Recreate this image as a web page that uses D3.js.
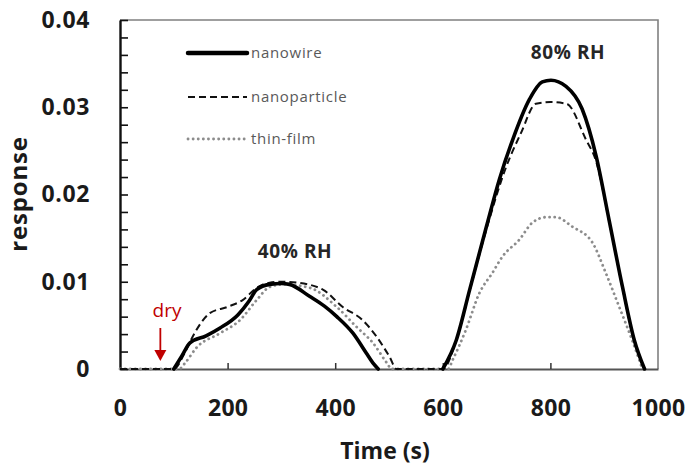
<!DOCTYPE html>
<html>
<head>
<meta charset="utf-8">
<script src="https://cdn.jsdelivr.net/npm/d3@7"></script>
<style>
  body { margin: 0; background: #fff; }
  text { font-family: "Open Sans", "Liberation Sans", sans-serif; }
</style>
</head>
<body>
<svg id="chart" width="690" height="471"></svg>
<script>
// values (time in s, response)
var nanowireT = [100, 115, 130, 160, 186, 219, 240, 254, 278, 300, 315, 353, 380, 403, 433, 458, 470, 480,
                 540,
                 600, 625, 650, 681, 705, 730, 761, 785, 801, 829, 859, 885, 909, 934, 956, 975];
var nanowireV = [0, 0.0015, 0.003, 0.0038, 0.0047, 0.0062, 0.0078, 0.0091, 0.0097, 0.0098, 0.0097, 0.0083, 0.0072, 0.006, 0.0041, 0.0018, 0.0007, 0,
                 null,
                 0, 0.0033, 0.0091, 0.0163, 0.0217, 0.0263, 0.0309, 0.0329, 0.0331, 0.0324, 0.0298, 0.0244, 0.0171, 0.0094, 0.0033, 0];

var particleT = [0, 100, 120, 135, 167, 199, 228, 254, 278, 300, 328, 377, 414, 451, 477, 501, 514,
                 600, 625, 650, 681, 718, 745, 773, 800, 830, 866, 885, 909, 934, 956, 975];
var particleV = [0, 0, 0.0018, 0.0037, 0.0064, 0.0071, 0.0079, 0.0093, 0.0099, 0.0100, 0.0099, 0.0091, 0.0071, 0.0056, 0.0037, 0.0014, 0,
                 0, 0.0033, 0.009, 0.016, 0.0232, 0.027, 0.0304, 0.0306, 0.0304, 0.0263, 0.0238, 0.017, 0.0093, 0.0032, 0];

var filmT = [0, 110, 121, 143, 186, 223, 254, 278, 303, 353, 403, 440, 470, 496, 505,
             610, 618, 643, 668, 692, 711, 742, 767, 792, 810, 841, 878, 903, 928, 952, 971];
var filmV = [0, 0, 0.0007, 0.0025, 0.0041, 0.0056, 0.0079, 0.0094, 0.0097, 0.0093, 0.0071, 0.0048, 0.003, 0.0007, 0,
             0, 0.001, 0.0045, 0.0087, 0.011, 0.0129, 0.0148, 0.0168, 0.0174, 0.0174, 0.0163, 0.0145, 0.011, 0.0071, 0.0033, 0];

var xTicks = [0, 200, 400, 600, 800, 1000];
var yMajor = [0, 0.01, 0.02, 0.03, 0.04];
var seriesNames = ["nanowire", "nanoparticle", "thin-film"];

var svg = d3.select("#chart");

var x = d3.scaleLinear().domain([0, 1000]).range([120, 658]);
var y = d3.scaleLinear().domain([0, 0.04]).range([369, 20]);

function toPts(ts, vs) {
  return ts.map(function(t, i) { return {t: t, v: vs[i]}; });
}

var line = d3.line()
    .defined(function(d) { return d.v !== null; })
    .x(function(d) { return x(d.t); })
    .y(function(d) { return y(d.v); })
    .curve(d3.curveMonotoneX);

var styles = [
  {stroke: "#000", width: 3.6, dash: null, cap: "round"},
  {stroke: "#111", width: 2, dash: "7,4", cap: "butt"},
  {stroke: "#8c8c8c", width: 2.8, dash: "0.1,5", cap: "round"}
];

// frame (top and right)
svg.append("path")
    .attr("d", "M" + x(0) + "," + y(0.04) + "H" + x(1000) + "V" + y(0))
    .attr("fill", "none")
    .attr("stroke", "#808080")
    .attr("stroke-width", 1.6);

// x axis
var xAxis = d3.axisBottom(x)
    .tickValues(xTicks)
    .tickSizeInner(-6)
    .tickSizeOuter(0)
    .tickPadding(31)
    .tickFormat(d3.format("d"));

var gx = svg.append("g")
    .attr("transform", "translate(0," + y(0) + ")")
    .call(xAxis);
gx.select(".domain").attr("stroke", "#555").attr("stroke-width", 2.2);
gx.selectAll(".tick line").attr("stroke", "#333").attr("stroke-width", 1.5)
    .style("display", function(d) { return (d === 0 || d === 1000) ? "none" : null; });
gx.selectAll(".tick text")
    .attr("font-family", "Open Sans")
    .attr("font-size", 23)
    .attr("font-weight", "bold")
    .attr("letter-spacing", 0.3)
    .attr("fill", "#1a1a1a");

// y axis, minor ticks every 0.002
var yAxis = d3.axisLeft(y)
    .tickValues(d3.range(0, 21).map(function(i) { return i * 0.002; }))
    .tickSizeInner(-8)
    .tickSizeOuter(0)
    .tickPadding(30)
    .tickFormat(function(d) {
      var m = yMajor.find(function(v) { return Math.abs(v - d) < 1e-9; });
      if (m === undefined) return "";
      return m === 0 ? "0" : m.toFixed(2);
    });

var gy = svg.append("g")
    .attr("transform", "translate(" + x(0) + ",0)")
    .call(yAxis);
gy.select(".domain").attr("stroke", "#111").attr("stroke-width", 2.4);
gy.selectAll(".tick line").attr("stroke", "#111").attr("stroke-width", 1.6);
gy.selectAll(".tick text")
    .attr("font-family", "Open Sans")
    .attr("font-size", 23)
    .attr("font-weight", "bold")
    .attr("letter-spacing", 0.6)
    .attr("fill", "#1a1a1a");

// axis titles
svg.append("text")
    .attr("x", 385).attr("y", 459)
    .attr("text-anchor", "middle")
    .attr("font-size", 23).attr("font-weight", "bold").attr("fill", "#1a1a1a")
    .text("Time (s)");

svg.append("text")
    .attr("transform", "translate(27,194) rotate(-90)")
    .attr("text-anchor", "middle")
    .attr("font-size", 24).attr("font-weight", "bold").attr("fill", "#1a1a1a")
    .attr("letter-spacing", 0.8)
    .text("response");

// series
var data = [toPts(filmT, filmV), toPts(particleT, particleV), toPts(nanowireT, nanowireV)];
var order = [2, 1, 0];
data.forEach(function(pts, i) {
  var s = styles[order[i]];
  svg.append("path")
      .datum(pts)
      .attr("fill", "none")
      .attr("stroke", s.stroke)
      .attr("stroke-width", s.width)
      .attr("stroke-dasharray", s.dash)
      .attr("stroke-linecap", s.cap)
      .attr("stroke-linejoin", "round")
      .attr("d", line);
});

// legend
var legendY = [53, 97, 139];
seriesNames.forEach(function(name, i) {
  var s = styles[i];
  svg.append("line")
      .attr("x1", 188).attr("x2", 247)
      .attr("y1", legendY[i]).attr("y2", legendY[i])
      .attr("stroke", s.stroke)
      .attr("stroke-width", i === 0 ? 4.5 : s.width)
      .attr("stroke-dasharray", s.dash)
      .attr("stroke-linecap", s.cap);
  svg.append("text")
      .attr("x", 251).attr("y", legendY[i] + 5)
      .attr("font-size", 15).attr("fill", "#595959")
      .attr("letter-spacing", 0.7)
      .text(name);
});

// annotations
svg.append("text")
    .attr("x", 295).attr("y", 258)
    .attr("text-anchor", "middle")
    .attr("font-size", 19).attr("font-weight", "bold").attr("fill", "#262626")
    .attr("letter-spacing", 0.6)
    .text("40% RH");

svg.append("text")
    .attr("x", 568).attr("y", 59)
    .attr("text-anchor", "middle")
    .attr("font-size", 19).attr("font-weight", "bold").attr("fill", "#262626")
    .attr("letter-spacing", 0.6)
    .text("80% RH");

svg.append("text")
    .attr("x", 167).attr("y", 317)
    .attr("text-anchor", "middle")
    .attr("font-size", 19).attr("fill", "#c00000")
    .text("dry");

var ax = x(75);
svg.append("line")
    .attr("x1", ax).attr("x2", ax)
    .attr("y1", 328).attr("y2", 352)
    .attr("stroke", "#c00000").attr("stroke-width", 1.8);
svg.append("path")
    .attr("d", "M" + (ax - 6) + ",350L" + (ax + 6) + ",350L" + ax + ",361Z")
    .attr("fill", "#c00000");
</script>
</body>
</html>
